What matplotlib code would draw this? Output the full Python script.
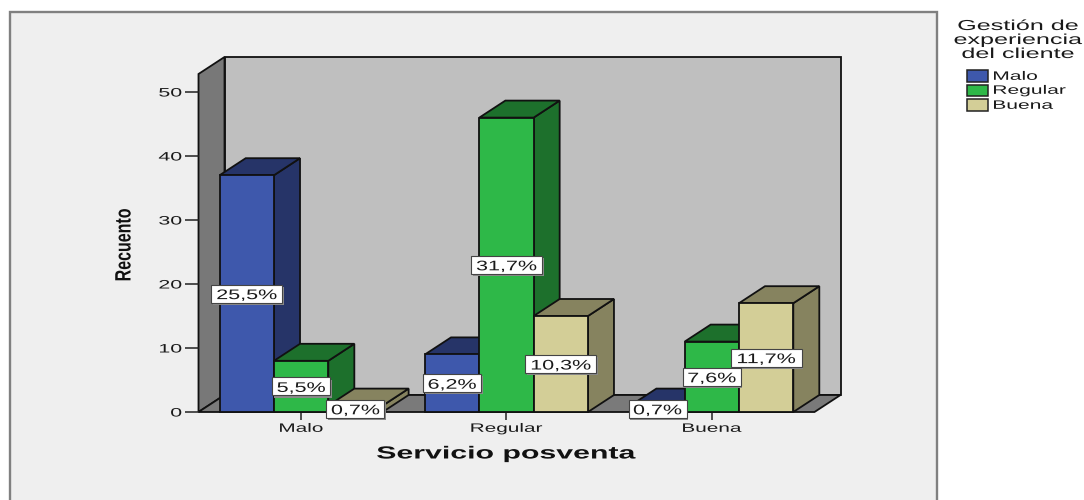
import matplotlib
matplotlib.use('Agg')
import matplotlib.pyplot as plt
from matplotlib.patches import Rectangle
from matplotlib.patheffects import AbstractPathEffect
from matplotlib.transforms import Affine2D

categories = ['Malo', 'Regular', 'Buena']
series_names = ['Malo', 'Regular', 'Buena']
malo_values = [37, 9, 1]
regular_values = [8, 46, 11]
buena_values = [1, 15, 17]
malo_labels = ['25,5%', '6,2%', '0,7%']
regular_labels = ['5,5%', '31,7%', '7,6%']
buena_labels = ['0,7%', '10,3%', '11,7%']
y_ticks = [0, 10, 20, 30, 40, 50]

front_colors = ['#3e58ac', '#2eb848', '#d3ce97']
shade_colors = ['#263468', '#1d702c', '#86835f']

W, H = 1084, 500
FONT = 'Liberation Sans'
EDGE = '#111111'
TEXT = '#1a1a1a'
BAR_W = 0.2645
DX = 26 / 205.3   # profundidad 3D en unidades de datos
DY = 17 / 6.4


class Stretch(AbstractPathEffect):
    # el original esta estirado en horizontal, se estira el texto a lo largo de su linea
    def __init__(self, sx, anchor=0.5):
        super().__init__()
        self.sx = sx
        self.anchor = anchor

    def draw_path(self, renderer, gc, tpath, affine, rgbFace=None):
        ext = tpath.get_extents()
        cx = ext.x0 + self.anchor * (ext.x1 - ext.x0)
        tr = Affine2D().translate(-cx, 0).scale(self.sx, 1).translate(cx, 0) + affine
        renderer.draw_path(gc, tpath, tr, rgbFace)


def fx(x):
    return x / W


def fy(y):
    return 1 - y / H


fig = plt.figure(figsize=(W / 100, H / 100), dpi=100, facecolor='white')

# marco gris del grafico
fig.add_artist(Rectangle((fx(10), -0.1), 927 / W, fy(12) + 0.1, transform=fig.transFigure,
                         facecolor='#efefef', edgecolor='#808080', linewidth=1.7, zorder=-1))

ax = fig.add_axes([fx(198.5), fy(412), 616 / W, 338 / H])
ax.set_xlim(-0.5, 2.5)
ax.set_ylim(0, 338 / 6.4)
ax.patch.set_visible(False)
for s in ax.spines.values():
    s.set_visible(False)

x0, x1 = ax.get_xlim()
y1 = ax.get_ylim()[1]

# paredes y suelo
ax.fill([x0 + DX, x1 + DX, x1 + DX, x0 + DX], [DY, DY, y1 + DY, y1 + DY],
        facecolor='#bfbfbf', edgecolor=EDGE, linewidth=1.3, clip_on=False, zorder=1)
ax.fill([x0, x0 + DX, x0 + DX, x0], [0, DY, y1 + DY, y1],
        facecolor='#787878', edgecolor=EDGE, linewidth=1.3, clip_on=False, zorder=1)
ax.fill([x0, x0 + DX, x1 + DX, x1], [0, DY, DY, 0],
        facecolor='#7a7a7a', edgecolor=EDGE, linewidth=1.3, clip_on=False, zorder=1)

all_values = [malo_values, regular_values, buena_values]
all_labels = [malo_labels, regular_labels, buena_labels]

z = 3
for c in range(len(categories)):
    for i in range(3):
        left = c + (i - 1) * BAR_W - BAR_W / 2
        right = left + BAR_W
        v = all_values[i][c]
        ax.fill([right, right + DX, right + DX, right], [0, DY, v + DY, v],
                facecolor=shade_colors[i], edgecolor=EDGE, linewidth=1.3, clip_on=False, zorder=z)
        ax.fill([left, left + DX, right + DX, right], [v, v + DY, v + DY, v],
                facecolor=shade_colors[i], edgecolor=EDGE, linewidth=1.3, clip_on=False, zorder=z)
        ax.bar(left + BAR_W / 2, v, BAR_W, color=front_colors[i], edgecolor=EDGE,
               linewidth=1.3, clip_on=False, zorder=z)
        z += 1

# etiquetas de porcentaje
for c in range(len(categories)):
    for i in range(3):
        xc = c + (i - 1) * BAR_W
        v = all_values[i][c]
        txt = all_labels[i][c]
        bw = (71 if len(txt) == 5 else 58) / 205.3
        bh = 18 / 6.4
        ax.add_patch(Rectangle((xc - bw / 2 + 0.008, v / 2 - bh / 2 - 0.35), bw, bh, facecolor='#8a8a8a',
                               edgecolor='none', clip_on=False, zorder=30))
        ax.add_patch(Rectangle((xc - bw / 2, v / 2 - bh / 2), bw, bh, facecolor='white',
                               edgecolor='#444444', linewidth=0.8, clip_on=False, zorder=31))
        ax.text(xc, v / 2, txt, ha='center', va='center_baseline', fontsize=10, family=FONT,
                color=TEXT, zorder=32, path_effects=[Stretch(1.55)])

ax.set_xticks(range(len(categories)))
ax.set_xticklabels(categories, family=FONT, fontsize=8.8, color=TEXT)
ax.set_yticks(y_ticks)
ax.set_yticklabels([str(t) for t in y_ticks], family=FONT, fontsize=8.8, color=TEXT)
ax.tick_params(axis='y', length=10, width=1.1, pad=2, color='#222222')
ax.tick_params(axis='x', length=5.8, width=1.1, pad=2, color='#222222')
for t in ax.get_yticklabels():
    t.set_path_effects([Stretch(1.75, anchor=1.0)])
for t in ax.get_xticklabels():
    t.set_path_effects([Stretch(1.7)])

fig.text(fx(506), fy(454), 'Servicio posventa', ha='center', va='center', family=FONT,
         fontweight='bold', fontsize=12.6, color='#111111', path_effects=[Stretch(1.73)])
fig.text(fx(125), fy(245), 'Recuento', ha='center', va='center', rotation=90, family=FONT,
         fontweight='bold', fontsize=16, color='#111111', path_effects=[Stretch(0.72)])

# leyenda
fig.text(fx(1018), fy(40), 'Gestión de\nexperiencia\ndel cliente', ha='center', va='center',
         family=FONT, fontsize=10.4, linespacing=1.0, color=TEXT, path_effects=[Stretch(1.74)])
legend_y = [76, 90, 105]
for i, name in enumerate(series_names):
    fig.add_artist(Rectangle((fx(967), fy(legend_y[i] + 5.5)), 21 / W, 11 / H, transform=fig.transFigure,
                             facecolor=front_colors[i], edgecolor='#222222', linewidth=1.1))
    fig.text(fx(993), fy(legend_y[i] + 0.8), name, ha='left', va='center', family=FONT, fontsize=8.8,
             color=TEXT, path_effects=[Stretch(1.72, anchor=0.0)])

fig.savefig('out.png', dpi=100)
plt.close(fig)
